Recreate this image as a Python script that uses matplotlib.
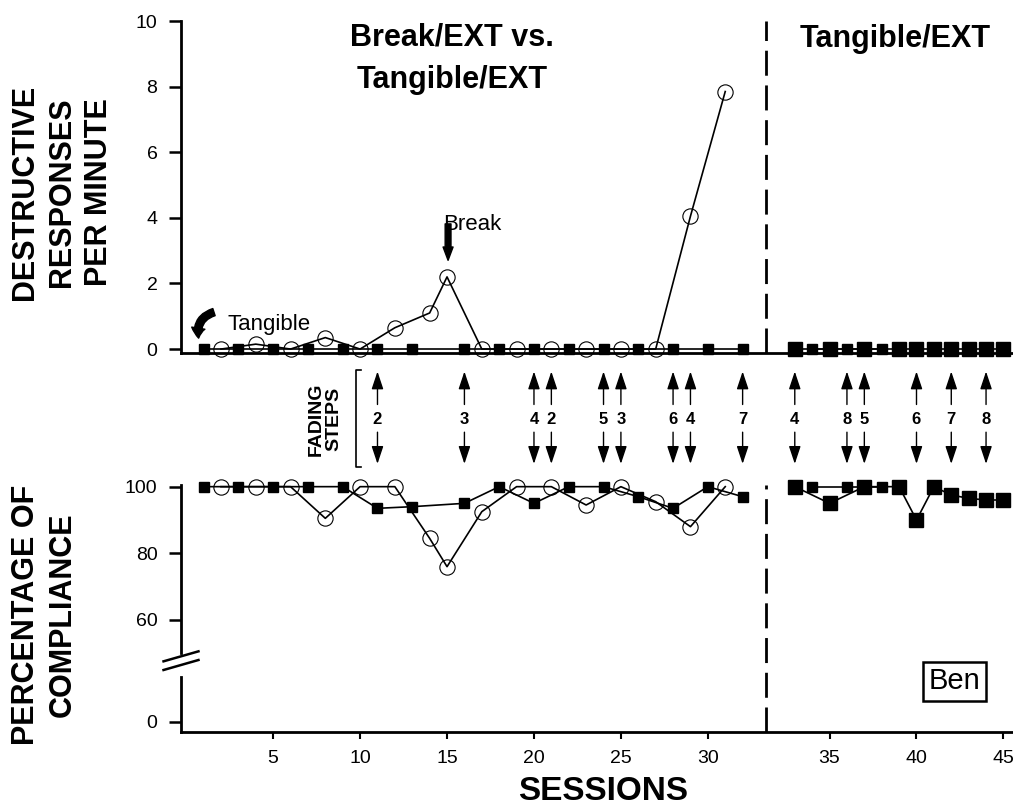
import numpy as np
import matplotlib.pyplot as plt
from matplotlib.patches import FancyArrowPatch

plt.rcParams['font.family'] = ['Liberation Sans', 'DejaVu Sans']

# --- session numbers and measures ---
# early phase: Tangible/EXT (filled squares) vs Break/EXT (open circles)
tang_sess = [1, 3, 5, 7, 9, 11, 13, 16, 18, 20, 22, 24, 26, 28, 30, 32]
tang_rate = [0, 0, 0, 0, 0, 0, 0, 0, 0, 0, 0, 0, 0, 0, 0, 0]
tang_comp = [100, 100, 100, 100, 100, 93.5, 94, 95, 100, 95, 100, 100, 97, 93.5, 100, 97]

brk_sess = [2, 4, 6, 8, 10, 12, 14, 15, 17, 19, 21, 23, 25, 27, 29, 31]
brk_rate = [0, 0.15, 0, 0.35, 0, 0.65, 1.1, 2.2, 0, 0, 0, 0, 0, 0, 4.05, 7.85]
brk_comp = [100, 100, 100, 90.5, 100, 100, 84.5, 76, 92.5, 100, 100, 94.5, 100, 95.5, 88, 100]

# late phase: Tangible/EXT only (two sets of sessions)
late_a_sess = [33, 35, 37, 39, 40, 41, 42, 43, 44, 45]
late_a_rate = [0, 0, 0, 0, 0, 0, 0, 0, 0, 0]
late_a_comp = [100, 95, 100, 100, 90, 100, 97.5, 96.5, 96, 96]

late_b_sess = [34, 36, 38]
late_b_rate = [0, 0, 0]
late_b_comp = [100, 100, 100]

# fading steps
fade_sess = [11, 16, 20, 21, 24, 25, 28, 29, 32, 33, 36, 37, 40, 42, 44]
fade_step = [2, 3, 4, 2, 5, 3, 6, 4, 7, 4, 8, 5, 6, 7, 8]

xtick_sess = [5, 10, 15, 20, 25, 30, 35, 40, 45]

GAP = 2          # extra room left at the phase change
PHASE_X = 33.35  # dashed phase line, in axis units


def xpos(s):
    s = np.asarray(s)
    return np.where(s >= 33, s + GAP, s)


W, H = 1013, 809
fig = plt.figure(figsize=(W / 100, H / 100), dpi=100)
fig.patch.set_facecolor('white')

left = 181 / W
width = 1 - left
XLIM = (-0.3, 47.55)


def px_box(top, bottom):
    return [left, 1 - bottom / H, width, (bottom - top) / H]


ax1 = fig.add_axes(px_box(21, 353))
axm = fig.add_axes(px_box(353, 485))
ax2 = fig.add_axes(px_box(485, 732))

line_kw = dict(color='black', lw=1.2)
sq_small = dict(marker='s', ms=7, mfc='black', mec='black')
sq_big = dict(marker='s', ms=9.5, mfc='black', mec='black')
circ = dict(marker='o', ms=11, mfc='none', mec='black', mew=0.8)

for ax in (ax1, ax2):
    ax.set_xlim(*XLIM)
    for side in ('top', 'right'):
        ax.spines[side].set_visible(False)
    ax.spines['bottom'].set_linewidth(2)
    ax.spines['left'].set_linewidth(2)
    ax.tick_params(axis='y', direction='out', length=9, width=1.8,
                   labelsize=14, pad=8)
    ax.axvline(PHASE_X, color='black', lw=2, ls=(0, (9, 3.5)))

# --- top panel: destructive responses per minute ---
ax1.plot(xpos(tang_sess), tang_rate, **line_kw, **sq_small, clip_on=False, zorder=3)
ax1.plot(xpos(brk_sess), brk_rate, **line_kw, **circ, clip_on=False, zorder=3)
ax1.plot(xpos(late_a_sess), late_a_rate, **line_kw, **sq_big, clip_on=False, zorder=3)
ax1.plot(xpos(late_b_sess), late_b_rate, **line_kw, **sq_small, clip_on=False, zorder=3)
ax1.set_ylim(-0.12, 10)
ax1.set_yticks([0, 2, 4, 6, 8, 10])
ax1.set_xticks([])

title_kw = dict(fontsize=22, fontweight='bold', ha='center', va='baseline')
ax1.text(15.3, 9.25, 'Break/EXT vs.', **title_kw)
ax1.text(15.3, 7.95, 'Tangible/EXT', **title_kw)
ax1.text(40.8, 9.2, 'Tangible/EXT', **title_kw)

ax1.text(14.8, 3.64, 'Break', fontsize=16, ha='left', va='baseline')
ax1.add_patch(FancyArrowPatch((15.06, 3.9), (15.06, 2.62),
                              arrowstyle='simple,head_length=0.8,head_width=0.6,tail_width=0.35',
                              mutation_scale=12, color='black', clip_on=False))
ax1.text(2.36, 0.59, 'Tangible', fontsize=16, ha='left', va='baseline')
ax1.add_patch(FancyArrowPatch((1.75, 1.15), (0.75, 0.25),
                              connectionstyle='arc3,rad=0.5',
                              arrowstyle='simple,head_length=0.6,head_width=0.8,tail_width=0.45',
                              mutation_scale=12, color='black', clip_on=False))

# --- fading steps strip ---
axm.set_xlim(*XLIM)
axm.set_ylim(0, 1)
axm.axis('off')
arrow_kw = dict(arrowstyle='-|>,head_length=0.9,head_width=0.3', color='black',
                lw=1.0, mutation_scale=12, shrinkA=0, shrinkB=0)
for s, step in zip(xpos(fade_sess), fade_step):
    axm.annotate('', xy=(s, 0.86), xytext=(s, 0.61), arrowprops=arrow_kw)
    axm.annotate('', xy=(s, 0.16), xytext=(s, 0.40), arrowprops=arrow_kw)
    axm.text(s, 0.495, str(step), fontsize=12, fontweight='bold', ha='center', va='center')

bx = 1 + (356 - 203.3) / 17.38
axm.plot([bx + 0.25, bx, bx, bx + 0.25], [0.87, 0.87, 0.14, 0.14], color='black', lw=1.2, clip_on=False)
axm.text(bx - 1.8, 0.5, 'FADING\nSTEPS', rotation=90, fontsize=14, fontweight='bold',
         ha='center', va='center', linespacing=1.0)

# --- bottom panel: percentage of compliance ---
ax2.plot(xpos(tang_sess), tang_comp, **line_kw, **sq_small, clip_on=False, zorder=3)
ax2.plot(xpos(brk_sess), brk_comp, **line_kw, **circ, clip_on=False, zorder=3)
ax2.plot(xpos(late_a_sess), late_a_comp, **line_kw, **sq_big, clip_on=False, zorder=3)
ax2.plot(xpos(late_b_sess), late_b_comp, **line_kw, **sq_small, clip_on=False, zorder=3)

ax2.set_ylim(26.4, 100.5)
ax2.set_yticks([29.4, 60, 80, 100])
ax2.set_yticklabels(['0', '60', '80', '100'])
ax2.set_xticks(xpos(xtick_sess))
ax2.set_xticklabels([str(v) for v in xtick_sess])
ax2.tick_params(axis='x', direction='out', length=5, width=1.5, labelsize=14, pad=8)

# broken y axis
ax2.spines['left'].set_visible(False)
ytr = ax2.get_yaxis_transform()
ax2.plot([0, 0], [100.5, 50.2], color='black', lw=2, transform=ytr, clip_on=False)
ax2.plot([0, 0], [42.9, 26.4], color='black', lw=2, transform=ytr, clip_on=False)
ax2.plot([-0.021, 0.021], [47.6, 50.6], color='black', lw=1.8, transform=ytr, clip_on=False)
ax2.plot([-0.021, 0.021], [45.0, 48.0], color='black', lw=1.8, transform=ytr, clip_on=False)

ax2.text(0.930, 0.205, 'Ben', transform=ax2.transAxes, fontsize=21, ha='center', va='center',
         bbox=dict(boxstyle='square,pad=0.2', fc='white', ec='black', lw=1.8))

# --- axis titles ---
fig.text(62 / W, 1 - 192 / H, 'DESTRUCTIVE\nRESPONSES\nPER MINUTE', rotation=90,
         fontsize=22, fontweight='bold', ha='center', va='center', linespacing=1.3)
fig.text(44 / W, 1 - 615 / H, 'PERCENTAGE OF\nCOMPLIANCE', rotation=90,
         fontsize=22, fontweight='bold', ha='center', va='center', linespacing=1.3)
fig.text(603 / W, 0.003, 'SESSIONS', fontsize=24, fontweight='bold', ha='center', va='bottom')

fig.savefig('out.png', dpi=100)
